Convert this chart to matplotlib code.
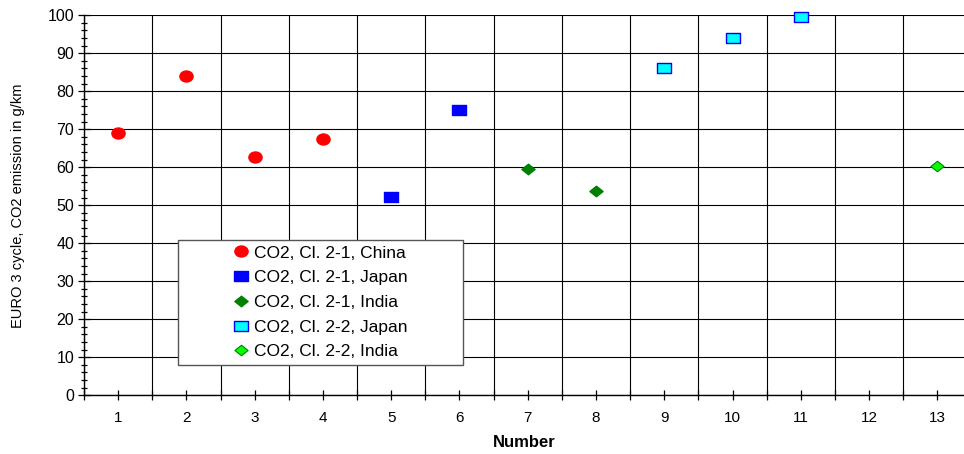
import numpy as np
import matplotlib.pyplot as plt
from matplotlib.path import Path
from matplotlib.patches import Rectangle
from matplotlib.transforms import Affine2D
from matplotlib.ticker import MultipleLocator, FixedLocator

plt.rcParams['font.family'] = ['Liberation Sans', 'DejaVu Sans']

# data
china_x = [1, 2, 3, 4]
china_y = [68.9, 83.9, 62.8, 67.4]
japan1_x = [5, 6]
japan1_y = [52.3, 75.1]
india1_x = [7, 8]
india1_y = [59.6, 53.7]
japan2_x = [9, 10, 11]
japan2_y = [86.2, 93.9, 99.6]
india2_x = [13]
india2_y = [60.3]
numbers = list(range(1, 14))

# slightly wide markers like the original
ellipse = Path.unit_circle().transformed(Affine2D().scale(1.2, 1.0))
rect = Path([(-1.2, -1), (1.2, -1), (1.2, 1), (-1.2, 1), (-1.2, -1)],
            [Path.MOVETO, Path.LINETO, Path.LINETO, Path.LINETO, Path.CLOSEPOLY])
diamond = Path([(0, -0.8), (1.0, 0), (0, 0.8), (-1.0, 0), (0, -0.8)],
               [Path.MOVETO, Path.LINETO, Path.LINETO, Path.LINETO, Path.CLOSEPOLY])

fig = plt.figure(figsize=(9.64, 4.54), dpi=100)
ax = fig.add_axes([0.0871, 0.1293, 0.9129, 0.837])

ax.plot(china_x, china_y, ls='none', marker=ellipse, ms=9.5, color='#ff0000', mec='#ff0000',
        label='CO2, Cl. 2-1, China', zorder=5)
ax.plot(japan1_x, japan1_y, ls='none', marker=rect, ms=9.5, color='#0000ff', mec='#0000ff',
        label='CO2, Cl. 2-1, Japan', zorder=5)
ax.plot(india1_x, india1_y, ls='none', marker=diamond, ms=9.5, color='#008000', mec='#008000',
        label='CO2, Cl. 2-1, India', zorder=5)
ax.plot(japan2_x, japan2_y, ls='none', marker=rect, ms=9.5, color='#00ffff', mec='#0000ff', mew=1.0,
        label='CO2, Cl. 2-2, Japan', zorder=5, clip_on=False)
ax.plot(india2_x, india2_y, ls='none', marker=diamond, ms=9.5, color='#00ff00', mec='#008000', mew=0.8,
        label='CO2, Cl. 2-2, India', zorder=5)

ax.set_xlim(0.5, 13.39)
ax.set_ylim(0, 100)

ax.xaxis.set_major_locator(FixedLocator(numbers))
ax.set_xticklabels([str(n) for n in numbers])
ax.xaxis.set_minor_locator(FixedLocator(np.arange(0.5, 14, 1)))
ax.yaxis.set_major_locator(MultipleLocator(10))
ax.yaxis.set_minor_locator(MultipleLocator(2))

ax.tick_params(axis='both', which='both', direction='inout', color='black', width=0.9)
ax.tick_params(axis='x', which='major', length=7, labelsize=11, pad=8)
ax.tick_params(axis='x', which='minor', length=7)
ax.tick_params(axis='y', which='major', length=8, labelsize=11.5, pad=3)
ax.tick_params(axis='y', which='minor', length=5)

ax.grid(True, axis='x', which='minor', color='black', lw=0.8)
ax.grid(True, axis='y', which='major', color='black', lw=0.8)
ax.set_axisbelow(True)

for s in ['top', 'right']:
    ax.spines[s].set_visible(False)
for s in ['left', 'bottom']:
    ax.spines[s].set_linewidth(1.0)

ax.set_xlabel('Number', fontsize=12, fontweight='bold', labelpad=7)
ax.set_ylabel('EURO 3 cycle, CO2 emission in g/km', fontsize=10.5, labelpad=16)

# legend box drawn separately so the entries sit centred in a wider frame
box = Rectangle((0.1068, 0.08), 0.324, 0.329, transform=ax.transAxes, facecolor='white',
                edgecolor='#555555', lw=1.0, zorder=9)
ax.add_patch(box)
leg = ax.legend(loc='center', bbox_to_anchor=(0.1068 + 0.162, 0.08 + 0.1645),
                fontsize=12.5, frameon=False, handlelength=0.9, handletextpad=0.3,
                borderpad=0, labelspacing=0.55, borderaxespad=0)
leg.set_zorder(10)

fig.savefig('out.png', dpi=100)
